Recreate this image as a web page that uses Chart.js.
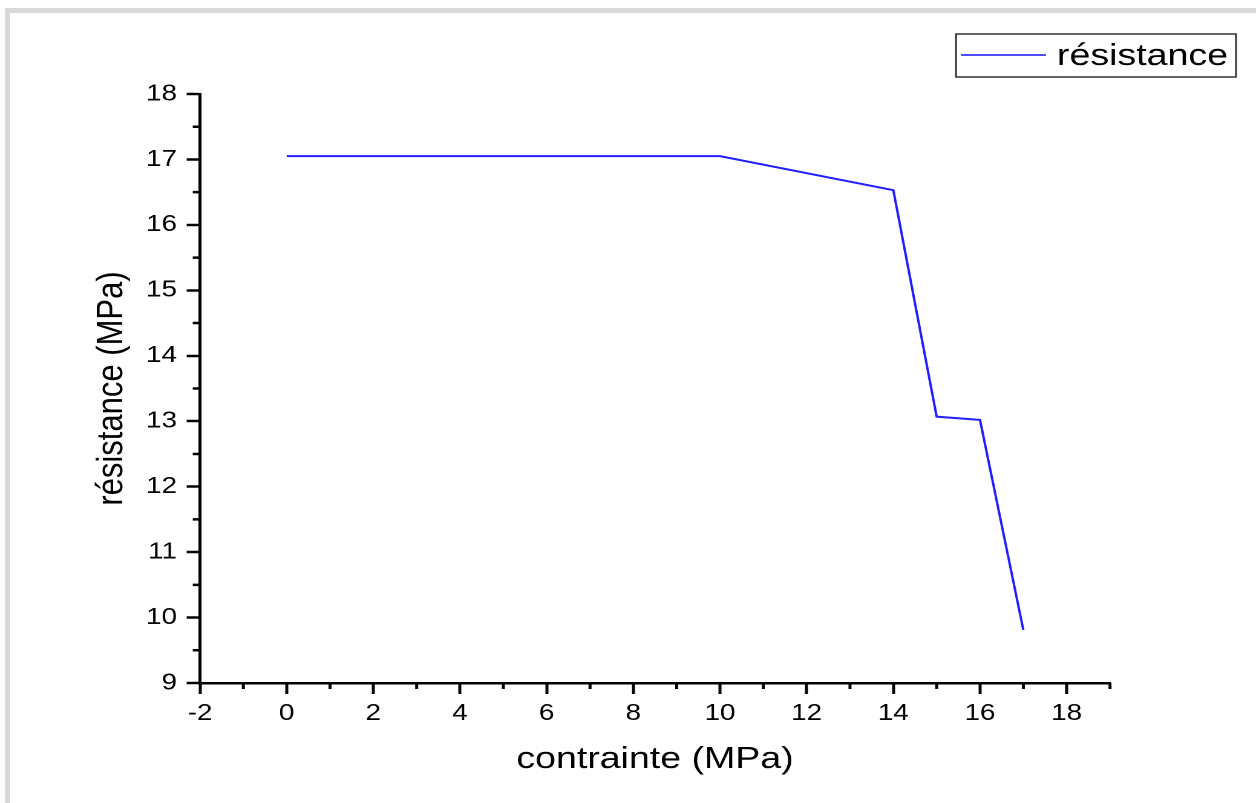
<!DOCTYPE html>
<html>
<head>
<meta charset="utf-8">
<title>résistance – contrainte</title>
<script src="https://cdn.jsdelivr.net/npm/chart.js@4.4.1/dist/chart.umd.min.js"></script>
<style>
  html, body { margin: 0; padding: 0; background: #fff; overflow: hidden; }
  body { width: 1256px; height: 803px; position: relative; }
  /* grey page frame, open on the right and bottom */
  .frame {
    position: absolute; left: 5px; top: 8px; right: 0; bottom: 0;
    border-top: 5px solid #d9d9d9; border-left: 5px solid #d9d9d9;
  }
  .wrap { position: absolute; left: 0; top: 0; height: 803px; transform-origin: 0 0; }
</style>
</head>
<body>
<div class="frame"></div>
<div class="wrap" id="wrap"><canvas id="chart"></canvas></div>
<script>
// ── données ─────────────────────────────────
const contrainte = [0, 10, 14, 15, 16, 17];
const resistance = [17.05, 17.05, 16.53, 13.07, 13.02, 9.81];

const xTicks = [-2, 0, 2, 4, 6, 8, 10, 12, 14, 16, 18];
const xMinorTicks = [-1, 1, 3, 5, 7, 9, 11, 13, 15, 17, 19];
const yTicks = [9, 10, 11, 12, 13, 14, 15, 16, 17, 18];
const yMinorTicks = [9.5, 10.5, 11.5, 12.5, 13.5, 14.5, 15.5, 16.5, 17.5];

// the graph is drawn narrow, then widened horizontally (like a stretched export)
const STRETCH = 1.21;
const PAGE_W = 1256, PAGE_H = 803;
const W = Math.round(PAGE_W / STRETCH);
const AREA = { left: 200 / STRETCH, right: 1110 / STRETCH, top: 94, bottom: 683 };

const wrap = document.getElementById("wrap");
wrap.style.width = W + "px";
wrap.style.transform = `scaleX(${STRETCH})`;

const FONT = "'Liberation Sans', Arial, sans-serif";

// petites graduations intermédiaires (Origin style)
const minorTicksPlugin = {
  id: "minorTicks",
  afterDraw(chart) {
    const { ctx, chartArea, scales: { x, y } } = chart;
    ctx.save();
    ctx.strokeStyle = "#000";
    ctx.lineWidth = 2.5;
    ctx.beginPath();
    xMinorTicks.forEach(v => {
      const px = x.getPixelForValue(v);
      ctx.moveTo(px, chartArea.bottom);
      ctx.lineTo(px, chartArea.bottom + 6);
    });
    yMinorTicks.forEach(v => {
      const py = y.getPixelForValue(v);
      ctx.moveTo(chartArea.left, py);
      ctx.lineTo(chartArea.left - 6, py);
    });
    ctx.stroke();
    ctx.restore();
  },
};

// légende encadrée en haut à droite
const legendBoxPlugin = {
  id: "legendBox",
  afterDraw(chart) {
    const { ctx } = chart;
    const ds = chart.data.datasets[0];
    const x0 = 956 / STRETCH, x1 = 1236 / STRETCH, y0 = 34, y1 = 77;
    ctx.save();
    ctx.strokeStyle = "#333";
    ctx.lineWidth = 1.5;
    ctx.strokeRect(x0, y0, x1 - x0, y1 - y0);
    ctx.strokeStyle = "#4d4dff";
    ctx.lineWidth = 2;
    ctx.beginPath();
    ctx.moveTo(961 / STRETCH, 55);
    ctx.lineTo(1046 / STRETCH, 55);
    ctx.stroke();
    ctx.fillStyle = "#000";
    ctx.font = `31px ${FONT}`;
    ctx.textBaseline = "alphabetic";
    ctx.fillText(ds.label, 1057 / STRETCH, 65);
    ctx.restore();
  },
};

const axisCommon = {
  type: "linear",
  grid: {
    display: true,
    drawOnChartArea: false,
    drawTicks: true,
    tickLength: 11,
    tickWidth: 2.5,
    tickColor: "#000",
  },
  border: { display: true, color: "#000", width: 2.5 },
};

new Chart(document.getElementById("chart"), {
  type: "line",
  data: {
    datasets: [{
      label: "résistance",
      data: contrainte.map((c, i) => ({ x: c, y: resistance[i] })),
      borderColor: "#1f1fff",
      borderWidth: 2,
      pointRadius: 0,
      tension: 0,
      fill: false,
    }],
  },
  options: {
    responsive: true,
    maintainAspectRatio: false,
    devicePixelRatio: 2,
    animation: false,
    layout: { padding: { top: AREA.top, right: W - AREA.right, left: 0, bottom: 0 } },
    plugins: { legend: { display: false }, tooltip: { enabled: false } },
    scales: {
      x: {
        ...axisCommon,
        min: -2,
        max: 19,
        afterBuildTicks: s => { s.ticks = xTicks.map(v => ({ value: v })); },
        afterFit: s => { s.height = PAGE_H - AREA.bottom; },
        ticks: {
          color: "#000",
          font: { family: FONT, size: 23 },
          padding: 6,
          maxRotation: 0,
          autoSkip: false,
          callback: v => String(v),
        },
        title: {
          display: true,
          text: "contrainte (MPa)",
          color: "#000",
          font: { family: FONT, size: 31 },
          padding: { bottom: 25 },
        },
      },
      y: {
        ...axisCommon,
        min: 9,
        max: 18,
        afterBuildTicks: s => { s.ticks = yTicks.map(v => ({ value: v })); },
        afterFit: s => { s.width = AREA.left; },
        ticks: {
          color: "#000",
          font: { family: FONT, size: 23 },
          padding: 8,
          autoSkip: false,
          callback: v => String(v),
        },
        title: {
          display: true,
          text: "résistance (MPa)",
          color: "#000",
          font: { family: FONT, size: 31 },
          padding: { top: 74 },
        },
      },
    },
  },
  plugins: [minorTicksPlugin, legendBoxPlugin],
});
</script>
</body>
</html>
